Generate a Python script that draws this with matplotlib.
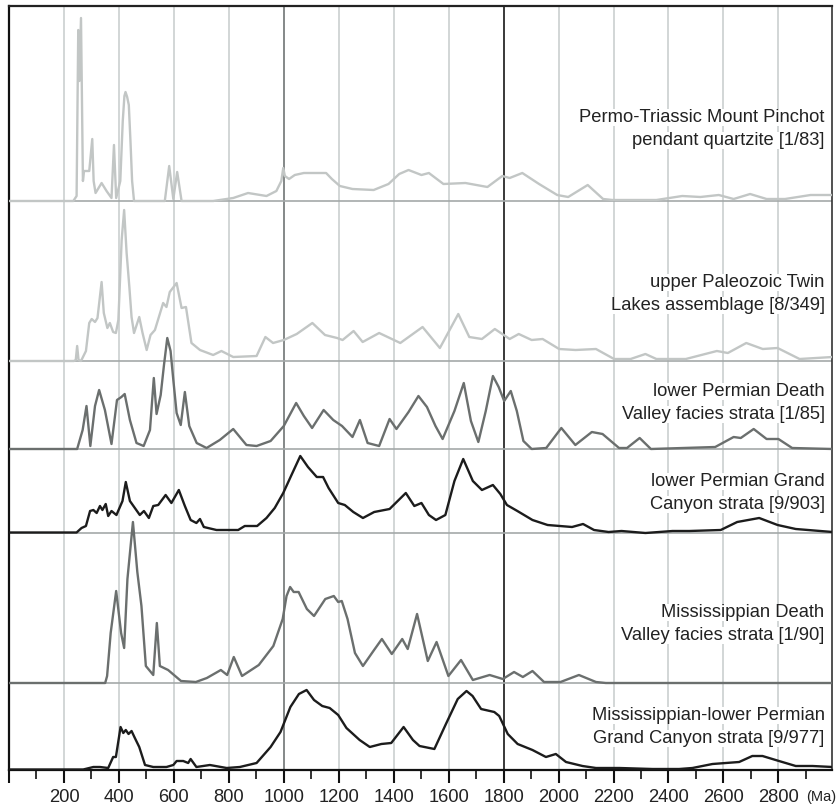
import matplotlib
matplotlib.use("Agg")
import matplotlib.pyplot as plt
import numpy as np

plt.rcParams['font.family'] = ['Liberation Sans', 'DejaVu Sans']

# Edades (Ma) y densidad relativa, por muestra
pinchot_age = [0, 234, 246, 252, 256, 262, 269, 273, 292, 303, 308, 315, 337, 355, 373, 382, 390,
               405, 414, 420, 424, 430, 436, 442, 448, 455, 567, 583, 598, 612, 628, 743, 816, 870,
               937, 973, 991, 998, 1004, 1019, 1040, 1073, 1154, 1175, 1204, 1250, 1327, 1381, 1420,
               1454, 1501, 1528, 1581, 1661, 1741, 1795, 1822, 1868, 1929, 1995, 2035, 2106, 2162,
               2196, 2356, 2450, 2516, 2583, 2637, 2697, 2757, 2824, 2917, 2997]
pinchot_p = [0, 0, 5, 171, 120, 183, 20, 30, 30, 62, 20, 8, 18, 10, 3, 56, 3,
             20, 80, 105, 109, 104, 96, 60, 20, 0, 0, 35, 2, 29, 0, 0, 3, 8,
             5, 10, 20, 33, 25, 22, 26, 28, 28, 22, 15, 12, 11, 17, 27,
             31, 26, 28, 17, 18, 14, 25, 23, 28, 17, 6, 4, 16, 2,
             1, 1, 5, 4, 6, 2, 7, 2, 2, 6, 6]

twin_age = [0, 236, 243, 248, 253, 262, 280, 292, 301, 313, 322, 337, 345, 358, 367, 379, 389, 398,
            410, 419, 428, 438, 446, 455, 474, 486, 501, 515, 531, 561, 573, 585, 610, 628, 644,
            664, 695, 743, 773, 816, 901, 933, 961, 1000, 1047, 1104, 1150, 1194, 1214, 1254, 1287,
            1347, 1424, 1505, 1568, 1635, 1675, 1721, 1768, 1822, 1855, 1902, 1942, 2002, 2062,
            2136, 2202, 2262, 2316, 2356, 2463, 2576, 2616, 2683, 2743, 2797, 2877, 2997]
twin_p = [0, 0, 1, 15, 1, 0, 10, 38, 42, 39, 43, 79, 48, 33, 38, 29, 28, 41,
          121, 151, 108, 74, 44, 28, 44, 28, 11, 26, 31, 58, 54, 69, 78, 53, 54,
          18, 11, 6, 10, 4, 5, 24, 18, 21, 27, 38, 26, 23, 21, 30, 19,
          28, 18, 34, 13, 47, 24, 22, 32, 22, 27, 21, 22, 12, 11,
          12, 2, 2, 7, 2, 2, 10, 8, 18, 12, 13, 2, 4]

lpdv_age = [0, 248, 268, 282, 296, 313, 328, 349, 373, 393, 409, 421, 440, 464, 490, 513, 527, 537,
            552, 564, 576, 588, 598, 610, 625, 640, 656, 683, 719, 767, 816, 864, 901, 952, 1000,
            1045, 1073, 1103, 1145, 1180, 1212, 1250, 1277, 1305, 1347, 1385, 1410, 1454, 1490,
            1521, 1552, 1578, 1621, 1655, 1681, 1708, 1735, 1761, 1782, 1802, 1826, 1848, 1872,
            1902, 1955, 2010, 2061, 2121, 2160, 2220, 2249, 2295, 2336, 2570, 2637, 2663, 2710,
            2757, 2800, 2850, 2997]
lpdv_p = [0, 0, 19, 43, 3, 43, 59, 39, 5, 49, 52, 55, 29, 6, 3, 19, 71, 35,
          54, 84, 111, 98, 69, 36, 24, 57, 23, 6, 1, 9, 20, 4, 3, 8, 23,
          46, 33, 21, 39, 29, 23, 12, 29, 6, 3, 30, 20, 37, 53,
          42, 23, 10, 38, 66, 28, 7, 38, 73, 62, 48, 58, 38, 8,
          0, 1, 21, 4, 17, 15, 1, 1, 11, 0, 2, 12, 11, 20,
          10, 10, 1, 0]

lpgc_age = [0, 246, 264, 280, 295, 307, 319, 331, 340, 352, 361, 373, 391, 413, 425, 440, 458, 476,
            491, 509, 525, 543, 570, 591, 618, 640, 661, 682, 695, 709, 755, 792, 834, 858, 903,
            937, 967, 998, 1028, 1060, 1088, 1120, 1143, 1163, 1198, 1222, 1253, 1288, 1329, 1385,
            1444, 1475, 1501, 1528, 1554, 1588, 1621, 1653, 1688, 1721, 1761, 1788, 1812, 1850,
            1905, 1960, 2049, 2089, 2129, 2182, 2229, 2316, 2415, 2476, 2590, 2650, 2730, 2797,
            2863, 2997]
lpgc_p = [0.5, 0.5, 5, 7, 22, 23, 20, 27, 23, 29, 17, 22, 18, 32, 51, 32, 25, 18,
          22, 15, 27, 28, 38, 30, 43, 27, 13, 10, 14, 6, 3, 3, 3, 7, 7,
          15, 25, 40, 58, 77, 66, 56, 56, 45, 30, 28, 21, 15, 21, 24,
          40, 27, 30, 18, 13, 18, 52, 74, 52, 43, 48, 39, 28, 22,
          13, 8, 6, 9, 3, 1, 2, 0, 2, 2, 3, 11, 15, 8,
          4, 1]

mdv_age = [0, 350, 357, 370, 390, 408, 419, 431, 451, 467, 482, 498, 525, 538, 549, 579, 626, 680,
           720, 771, 794, 818, 848, 909, 962, 996, 1010, 1023, 1036, 1054, 1084, 1110, 1151, 1182,
           1198, 1211, 1232, 1259, 1288, 1326, 1357, 1393, 1431, 1451, 1485, 1524, 1556, 1599,
           1645, 1688, 1749, 1797, 1838, 1870, 1905, 1947, 2007, 2074, 2136, 2172, 2997]
mdv_p = [0, 0, 7, 50, 92, 50, 35, 104, 161, 111, 77, 17, 8, 60, 17, 13, 2, 1,
         5, 13, 8, 26, 7, 18, 37, 64, 87, 96, 91, 91, 74, 67, 84, 87,
         81, 82, 64, 30, 17, 32, 44, 29, 44, 34, 69, 22, 41, 7,
         23, 3, 8, 4, 11, 6, 12, 1, 1, 8, 1, 0, 0]

mlpgc_age = [0, 270, 307, 331, 361, 379, 389, 406, 416, 425, 435, 446, 458, 474, 495, 525, 573,
             598, 610, 634, 652, 661, 682, 731, 792, 840, 901, 952, 988, 1024, 1055, 1083, 1110,
             1140, 1167, 1198, 1228, 1276, 1313, 1355, 1391, 1436, 1470, 1494, 1548, 1590, 1633,
             1665, 1687, 1718, 1766, 1784, 1815, 1851, 1905, 1954, 1990, 2027, 2087, 2136, 2221,
             2342, 2439, 2487, 2560, 2657, 2705, 2742, 2802, 2863, 2924, 2997]
mlpgc_p = [0.5, 0.5, 3, 3, 2, 13, 13, 43, 37, 40, 36, 39, 32, 23, 5, 3, 3,
           5, 9, 9, 7, 11, 3, 5, 2, 3, 7, 23, 38, 63, 76, 80, 70,
           64, 62, 55, 42, 30, 23, 26, 27, 43, 30, 24, 21, 46, 71,
           79, 74, 61, 58, 54, 36, 26, 20, 13, 16, 8, 4, 2, 2,
           1, 1, 2, 6, 8, 14, 14, 9, 4, 4, 3]

labels = ["Permo-Triassic Mount Pinchot\npendant quartzite [1/83]",
          "upper Paleozoic Twin\nLakes assemblage [8/349]",
          "lower Permian Death\nValley facies strata [1/85]",
          "lower Permian Grand\nCanyon strata [9/903]",
          "Mississippian Death\nValley facies strata [1/90]",
          "Mississippian-lower Permian\nGrand Canyon strata [9/977]"]

# desplazamiento vertical de cada curva y posicion de su etiqueta
offsets = [569, 409, 321, 237, 87, 0]
label_y = [641, 476, 367, 277, 146, 43]
colors = ['#c2c6c5', '#c2c6c5', '#6b6f6e', '#1c1c1c', '#6b6f6e', '#1c1c1c']
series = [(pinchot_age, pinchot_p), (twin_age, twin_p), (lpdv_age, lpdv_p),
          (lpgc_age, lpgc_p), (mdv_age, mdv_p), (mlpgc_age, mlpgc_p)]

fig = plt.figure(figsize=(8.36, 8.06), dpi=100)
ax = fig.add_axes([9 / 836, 36 / 806, 823 / 836, 764 / 806])

# lineas verticales cada 200 Ma
for a in range(200, 2900, 200):
    if a == 1000:
        ax.axvline(a, color='#6f7474', lw=1.2, zorder=1)
    elif a == 1800:
        ax.axvline(a, color='#2a2a2a', lw=1.3, zorder=1)
    else:
        ax.axvline(a, color='#c6cbcb', lw=1.1, zorder=1)

for off in offsets[:-1]:
    ax.axhline(off, color='#a4a9a9', lw=1.2, zorder=1)

for (age, p), off, c in zip(series, offsets, colors):
    ax.plot(age, off + np.array(p), color=c, lw=1.7, zorder=3, solid_joinstyle='round')

# cada renglon con su propio fondo blanco
for lab, y in zip(labels, label_y):
    top, bottom = lab.split('\n')
    for txt, yy in ((top, y + 11.5), (bottom, y - 11.5)):
        ax.text(2968, yy, txt, ha='right', va='center', fontsize=13.2, color='#222222',
                zorder=4, bbox=dict(facecolor='white', edgecolor='none', pad=0.3))

ax.set_xlim(0, 2995)
ax.set_ylim(0, 764)
ax.set_yticks([])
ax.set_xticks(range(0, 2900, 200))
ax.set_xticklabels([''] + [str(v) for v in range(200, 2900, 200)])
ax.set_xticks(range(100, 3000, 200), minor=True)
ax.tick_params(axis='x', which='major', length=9.5, width=1.5, pad=4.5,
               labelsize=13.2, labelcolor='#222222', color='#111111')
ax.tick_params(axis='x', which='minor', length=6.5, width=1.2, color='#111111')

ax.spines['top'].set_color('#222222')
ax.spines['top'].set_linewidth(1.6)
ax.spines['left'].set_color('#111111')
ax.spines['left'].set_linewidth(1.6)
ax.spines['right'].set_color('#333333')
ax.spines['right'].set_linewidth(1.2)
ax.spines['bottom'].set_color('#111111')
ax.spines['bottom'].set_linewidth(1.6)

fig.text(821 / 836, 9 / 806, '(Ma)', ha='center', va='center', fontsize=10.5, color='#222222')

fig.savefig('out.png', dpi=100)
